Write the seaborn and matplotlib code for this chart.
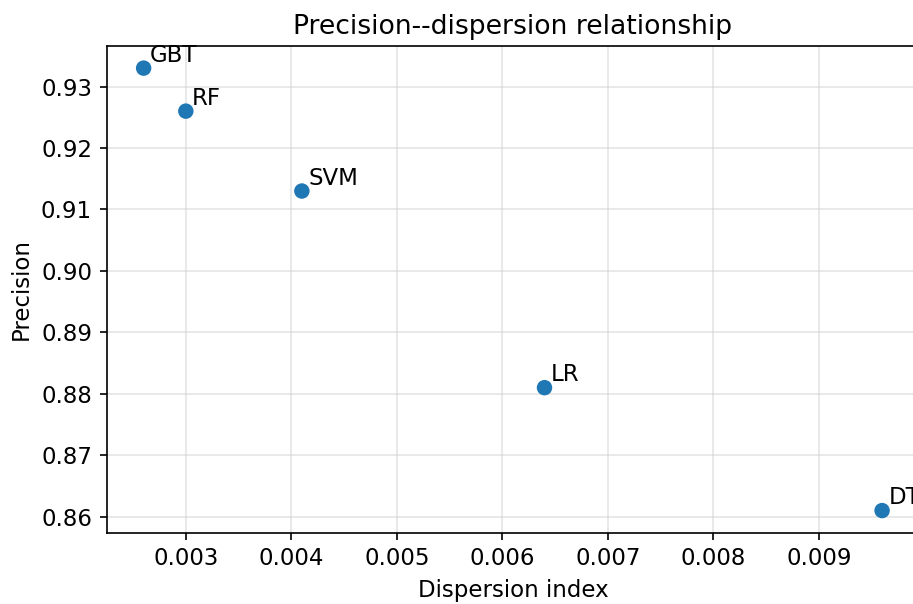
import matplotlib
matplotlib.use('Agg')
import matplotlib.pyplot as plt
import seaborn as sns
import pandas as pd

models = ['GBT', 'RF', 'SVM', 'LR', 'DT']
dispersion = [0.0026, 0.0030, 0.0041, 0.0064, 0.0096]
precision = [0.933, 0.926, 0.913, 0.881, 0.861]

df = pd.DataFrame({'model': models, 'dispersion': dispersion, 'precision': precision})

sns.set_style('ticks', rc={'axes.edgecolor': 'black', 'text.color': 'black',
                           'axes.labelcolor': 'black', 'xtick.color': 'black',
                           'ytick.color': 'black'})
plt.rcParams['font.family'] = ['DejaVu Sans']

fig = plt.figure(figsize=(913 / 150, 604 / 150), dpi=150)
ax = fig.add_axes([106.7 / 913, (604 - 532.7) / 604, (919 - 106.7) / 913, (532.7 - 46) / 604])

sns.scatterplot(data=df, x='dispersion', y='precision', s=55, color='#1f77b4',
                edgecolor='none', ax=ax, zorder=3)

# model labels next to each point
for _, row in df.iterrows():
    ax.annotate(row['model'], (row['dispersion'], row['precision']),
                xytext=(3, 3), textcoords='offset points', fontsize=11)

ax.grid(True, color='#cccccc', alpha=0.5, linewidth=0.8)
ax.set_axisbelow(True)
ax.set_title('Precision--dispersion relationship', fontsize=12.8)
ax.set_xlabel('Dispersion index', fontsize=11)
ax.set_ylabel('Precision', fontsize=11)
ax.tick_params(labelsize=11)

fig.savefig('out.png', dpi=150)
